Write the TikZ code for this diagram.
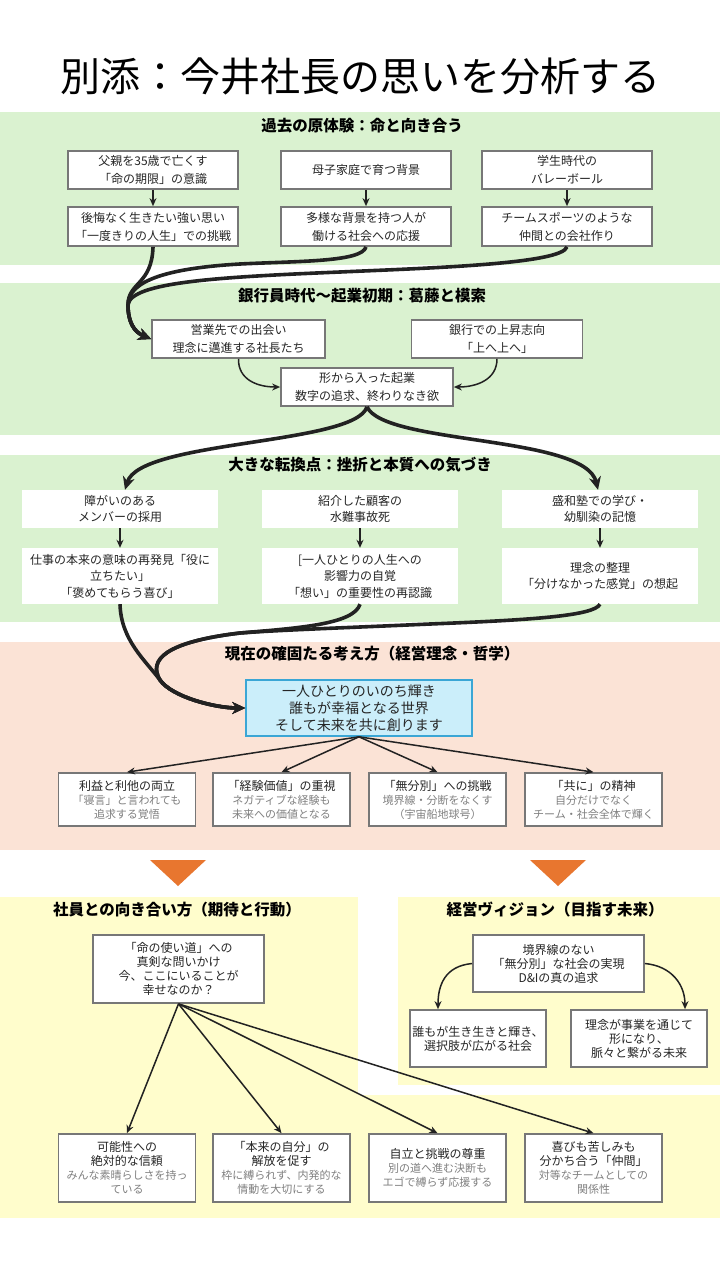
\documentclass[tikz,border=0pt]{standalone}
\usepackage{fontspec}
\setmainfont{Noto Sans CJK JP}
\usetikzlibrary{arrows.meta}
\definecolor{bandgreen}{HTML}{DAF2D0}
\definecolor{bandpink}{HTML}{FBE3D6}
\definecolor{bandyellow}{HTML}{FFFDCC}
\definecolor{boxgray}{HTML}{777777}
\definecolor{txt}{HTML}{262626}
\definecolor{subgray}{HTML}{808080}
\definecolor{linedark}{HTML}{222222}
\definecolor{keyfill}{HTML}{CBEEFA}
\definecolor{keyline}{HTML}{3AA6D5}
\definecolor{tri}{HTML}{E8762F}
\newcommand\graytxt[1]{{\fontsize{11}{14}\selectfont\color{subgray}#1}}
\begin{document}
\begin{tikzpicture}[x=1pt,y=-1pt,
  box/.style={draw=boxgray,line width=1.7pt,fill=white,align=center,inner sep=2pt,text=txt,font=\fontsize{12}{18}\selectfont},
  plainbox/.style={fill=white,align=center,inner sep=2pt,text=txt,font=\fontsize{12}{16.5}\selectfont},
  tightbox/.style={box,font=\fontsize{12}{14}\selectfont},
  keybox/.style={draw=keyline,line width=1.6pt,fill=keyfill,align=center,inner sep=2pt,text=txt,font=\fontsize{14}{17}\selectfont},
  secttitle/.style={font=\bfseries\fontsize{15.5}{18}\selectfont,text=black},
  arr/.style={draw=linedark,line width=1.5pt,-{Stealth[length=8pt,width=7pt]}},
  bigarr/.style={draw=linedark,line width=3.6pt,-{Stealth[length=13pt,width=12pt]}},
  sz/.style 2 args={minimum width=#1,minimum height=#2}]
\useasboundingbox (0,0) rectangle (720,1280);
\fill[white] (0,0) rectangle (720,1280);
% bands
\fill[bandgreen] (0,112) rectangle (720,265);
\fill[bandgreen] (0,283) rectangle (720,435);
\fill[bandgreen] (0,455) rectangle (720,622);
\fill[bandpink] (0,642) rectangle (720,850);
\fill[bandyellow] (0,897) rectangle (358,1095);
\fill[bandyellow] (398,897) rectangle (720,1085);
\fill[bandyellow] (0,1095) rectangle (720,1218);
% triangles
\fill[tri] (150,860) -- (206,860) -- (178,886) -- cycle;
\fill[tri] (530,860) -- (586,860) -- (558,886) -- cycle;
% title
\node[font=\fontsize{40}{44}\selectfont,text=black] (title) at (360,76) {別添：今井社長の思いを分析する};
% section titles
\node[secttitle] (s1) at (362,126) {過去の原体験：命と向き合う};
\node[secttitle] (s2) at (362,296) {銀行員時代～起業初期：葛藤と模索};
\node[secttitle] (s3) at (360,465) {大きな転換点：挫折と本質への気づき};
\node[secttitle] (s4) at (372,654) {現在の確固たる考え方（経営理念・哲学）};
\node[secttitle] (s5) at (177,910) {社員との向き合い方（期待と行動）};
\node[secttitle] (s6) at (555,910) {経営ヴィジョン（目指す未来）};
% section 1
\node[box,sz={170pt}{38pt}] (a1) at (153,170) {父親を35歳で亡くす\\「命の期限」の意識};
\node[box,sz={170pt}{38pt}] (a2) at (366,170) {母子家庭で育つ背景};
\node[box,sz={170pt}{38pt}] (a3) at (567,170) {学生時代の\\バレーボール};
\node[box,sz={170pt}{39pt}] (b1) at (153,226.5) {後悔なく生きたい強い思い\\「一度きりの人生」での挑戦};
\node[box,sz={170pt}{39pt}] (b2) at (366,226.5) {多様な背景を持つ人が\\働ける社会への応援};
\node[box,sz={170pt}{39pt}] (b3) at (567,226.5) {チームスポーツのような\\仲間との会社作り};
\draw[arr] (a1) -- (b1);
\draw[arr] (a2) -- (b2);
\draw[arr] (a3) -- (b3);
% section 2
\node[box,sz={173pt}{38pt}] (c1) at (238.5,339) {営業先での出会い\\理念に邁進する社長たち};
\node[box,sz={171pt}{38pt}] (c2) at (497,339) {銀行での上昇志向\\「上へ上へ」};
\node[box,sz={172pt}{38pt}] (d) at (367,387) {形から入った起業\\数字の追求、終わりなき欲};
\draw[arr] (c1.south) .. controls (238,380) and (258,387) .. (d.west);
\draw[arr] (c2.south) .. controls (497,380) and (476,387) .. (d.east);
% thick curves 1 -> 2
\draw[bigarr] (b1.south) .. controls (152,285) and (128,282) .. (128,305) .. controls (128,322) and (134,332) .. (c1.west);
\draw[bigarr] (b2.south) .. controls (362,262) and (300,261) .. (240,264) .. controls (170,268) and (128,280) .. (128,305) .. controls (128,322) and (134,332) .. (c1.west);
\draw[bigarr] (b3.south) .. controls (562,264) and (430,268) .. (340,272) .. controls (220,277) and (130,282) .. (128,305) .. controls (128,322) and (134,332) .. (c1.west);
% section 3
\node[plainbox,sz={196pt}{38pt}] (e1) at (120,509) {障がいのある\\メンバーの採用};
\node[plainbox,sz={196pt}{38pt}] (e2) at (360,509) {紹介した顧客の\\水難事故死};
\node[plainbox,sz={196pt}{38pt}] (e3) at (600,509) {盛和塾での学び・\\幼馴染の記憶};
\node[plainbox,sz={196pt}{56pt}] (f1) at (120,576) {仕事の本来の意味の再発見「役に\\立ちたい」\\「褒めてもらう喜び」};
\node[plainbox,sz={196pt}{56pt}] (f2) at (360,576) {[一人ひとりの人生への\\影響力の自覚\\「想い」の重要性の再認識};
\node[plainbox,sz={196pt}{56pt}] (f3) at (600,576) {理念の整理\\「分けなかった感覚」の想起};
\draw[arr] (e1) -- (f1);
\draw[arr] (e2) -- (f2);
\draw[arr] (e3) -- (f3);
\draw[bigarr] (d.south) .. controls (355,445) and (140,440) .. ([xshift=5pt]e1.north);
\draw[bigarr] (d.south) .. controls (385,445) and (585,435) .. ([xshift=-2pt]e3.north);
% section 4
\node[keybox,sz={226pt}{56pt}] (g) at (359,708) {一人ひとりのいのち輝き\\誰もが幸福となる世界\\そして未来を共に創ります};
\draw[bigarr] (f1.south) .. controls (121,640) and (145,660) .. (160,680) .. controls (172,697) and (215,708) .. (g.west);
\draw[bigarr] (f2.south) .. controls (354,624) and (300,628) .. (240,633) .. controls (165,642) and (148,660) .. (160,680) .. controls (172,697) and (215,708) .. (g.west);
\draw[bigarr] (f3.south) .. controls (594,616) and (530,620) .. (430,624) .. controls (340,628) and (280,630) .. (240,633) .. controls (165,642) and (148,660) .. (160,680) .. controls (172,697) and (215,708) .. (g.west);
\node[tightbox,sz={137pt}{53pt}] (h1) at (127,799.5) {利益と利他の両立\\\graytxt{「寝言」と言われても}\\\graytxt{追求する覚悟}};
\node[tightbox,sz={137pt}{53pt}] (h2) at (281.5,799.5) {「経験価値」の重視\\\graytxt{ネガティブな経験も}\\\graytxt{未来への価値となる}};
\node[tightbox,sz={137pt}{53pt}] (h3) at (437.5,799.5) {「無分別」への挑戦\\\graytxt{境界線・分断をなくす}\\\graytxt{（宇宙船地球号）}};
\node[tightbox,sz={137pt}{53pt}] (h4) at (593.5,799.5) {「共に」の精神\\\graytxt{自分だけでなく}\\\graytxt{チーム・社会全体で輝く}};
\draw[arr] (g.south) -- (h1.north);
\draw[arr] (g.south) -- (h2.north);
\draw[arr] (g.south) -- (h3.north);
\draw[arr] (g.south) -- (h4.north);
% section 5 left
\node[tightbox,sz={171pt}{68pt}] (i) at (178.5,969) {「命の使い道」への\\真剣な問いかけ\\今、ここにいることが\\幸せなのか？};
\node[tightbox,sz={137pt}{68pt}] (j1) at (127,1168) {可能性への\\絶対的な信頼\\\graytxt{みんな素晴らしさを持っ}\\\graytxt{ている}};
\node[tightbox,sz={137pt}{68pt}] (j2) at (281.5,1168) {「本来の自分」の\\解放を促す\\\graytxt{枠に縛られず、内発的な}\\\graytxt{情動を大切にする}};
\node[tightbox,sz={137pt}{68pt}] (j3) at (437.5,1168) {自立と挑戦の尊重\\\graytxt{別の道へ進む決断も}\\\graytxt{エゴで縛らず応援する}};
\node[tightbox,sz={137pt}{68pt}] (j4) at (593.5,1168) {喜びも苦しみも\\分かち合う「仲間」\\\graytxt{対等なチームとしての}\\\graytxt{関係性}};
\draw[arr] (i.south) -- (j1.north);
\draw[arr] (i.south) -- (j2.north);
\draw[arr] (i.south) -- (j3.north);
\draw[arr] (i.south) -- (j4.north);
% section 5 right
\node[tightbox,sz={171pt}{57pt}] (k) at (558.5,963.5) {境界線のない\\「無分別」な社会の実現\\D\&Iの真の追求};
\node[tightbox,sz={136pt}{57pt}] (l1) at (478,1038.5) {誰もが生き生きと輝き、\\選択肢が広がる社会};
\node[tightbox,sz={136pt}{57pt}] (l2) at (639,1038.5) {理念が事業を通じて\\形になり、\\脈々と繋がる未来};
\draw[arr] (k.west) .. controls (445,966) and (438,985) .. ([xshift=-40pt]l1.north);
\draw[arr] (k.east) .. controls (672,966) and (685,985) .. ([xshift=46pt]l2.north);
\end{tikzpicture}
\end{document}
